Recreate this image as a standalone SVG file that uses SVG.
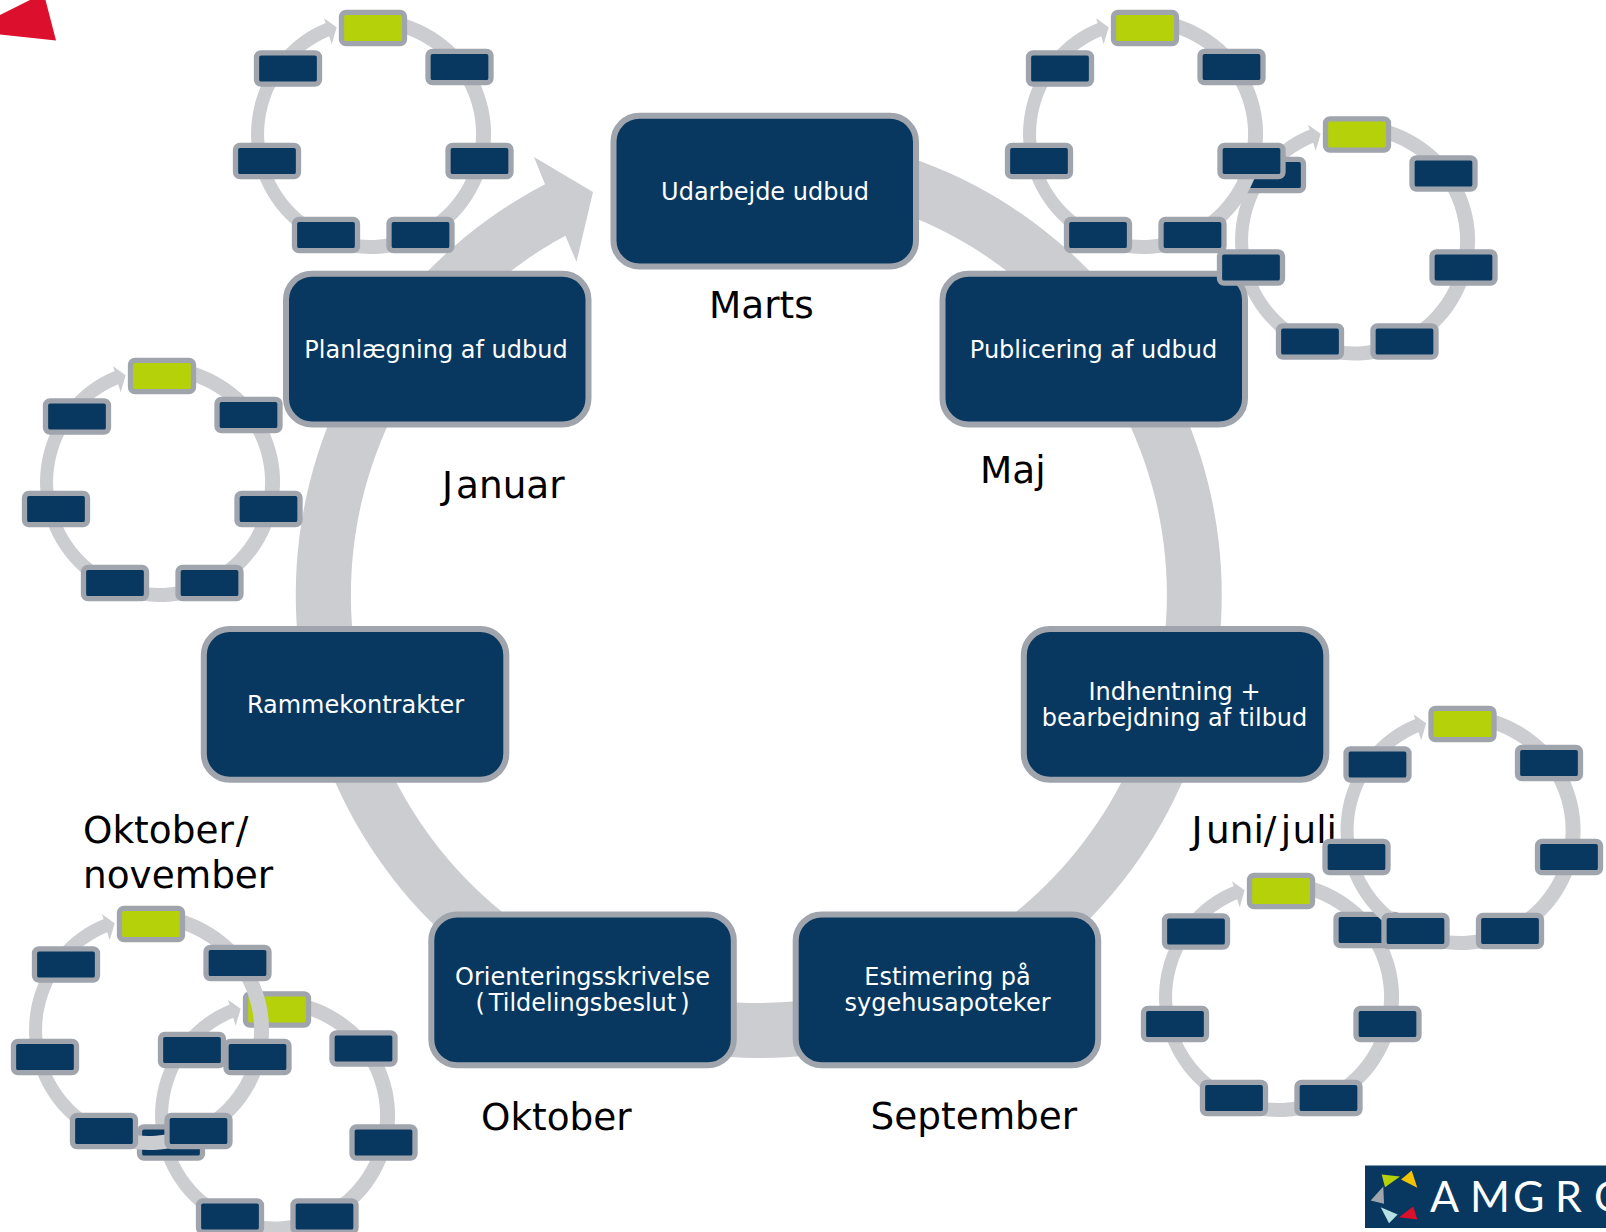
<svg xmlns="http://www.w3.org/2000/svg" width="1606" height="1232" viewBox="0 0 1606 1232">
<style>
text{font-family:"DejaVu Sans",Verdana,sans-serif}
.box{fill:#08385f;stroke:#a0a5ad;stroke-width:6}
.t{fill:#fff;font-size:24px;text-anchor:middle}
.lab{fill:#000;font-size:37.4px}
.flow{fill:#cccdd1}
.mini{fill:#08385f;stroke:#a0a5ad;stroke-width:5.3}
.cur{fill:#b5d10a;stroke:#a0a5ad;stroke-width:5.3}
</style>
<defs>
<path id="arc" class="flow" d="M-45.3-110.7L-47-115.7L-34.3-106.7L-39.3-89.7L-41.8-97.8A106 106 0 1 0 0-106L0-120A120 120 0 1 1-45.3-111.1Z"/>
<rect id="n0" class="cur" x="-29.5" y="-121.7" width="63" height="31.4" rx="4.5"/>
<rect id="n1" class="mini" x="-114.5" y="-81.2" width="63" height="31.4" rx="4.5"/>
<rect id="n2" class="mini" x="57" y="-82.7" width="63" height="31.4" rx="4.5"/>
<rect id="n3" class="mini" x="-135.5" y="11.3" width="63" height="31.4" rx="4.5"/>
<rect id="n4" class="mini" x="77" y="11.3" width="63" height="31.4" rx="4.5"/>
<rect id="n5" class="mini" x="-76.5" y="85.3" width="63" height="31.4" rx="4.5"/>
<rect id="n6" class="mini" x="18" y="85.3" width="63" height="31.4" rx="4.5"/>
<g id="ring">
<use href="#arc"/><use href="#n0"/><use href="#n1"/><use href="#n2"/><use href="#n3"/><use href="#n4"/><use href="#n5"/><use href="#n6"/>
</g>
</defs>

<polygon points="30,0 45.5,0 56,40.5 0,34.5 0,15" fill="#dc0f2c"/>

<g id="connectors">
<path id="main-cycle" class="flow" d="M545 184.3L534 157L593 192L576.5 262L565.4 235.8A408 408 0 1 0 758.8 187L758.8 132A463 463 0 1 1 545 184.3Z"/>
</g>

<g id="labels">
<text class="lab" x="709" y="318">Marts</text>
<text class="lab" x="442" y="498" dx="0 3">Januar</text>
<text class="lab" x="980" y="482.5">Maj</text>
<text class="lab" x="83" y="843" dx="0 0 0 0 0 0 0 2">Oktober/</text>
<text class="lab" x="83" y="888">november</text>
<text class="lab" x="1191.5" y="843" dx="0 3.5 0 0 0 4.4 1.3">Juni/juli</text>
<text class="lab" x="481" y="1129.5">Oktober</text>
<text class="lab" x="870.5" y="1129">September</text>
</g>

<g id="ring-januar" transform="translate(160 482)"><use href="#ring"/></g>
<g id="ring-marts" transform="translate(371 134)"><use href="#ring"/></g>
<g id="ring-maj-b-back" transform="translate(1355 240.5)"><use href="#arc"/><use href="#n1"/></g>
<g id="ring-maj-a" transform="translate(1143 134)"><use href="#ring"/></g>
<g id="ring-sep" transform="translate(1279 997)"><use href="#ring"/></g>
<g id="ring-juni" transform="translate(1460.5 830)"><use href="#ring"/></g>
<g id="ring-okt-b" transform="translate(275 1115.5)"><use href="#ring"/></g>
<g id="ring-okt-a" transform="translate(149 1030)"><use href="#ring"/></g>

<g id="node-udarbejde"><rect class="box" x="613.5" y="115.7" width="302.5" height="150.7" rx="26"/><text class="t" x="765" y="199.5">Udarbejde udbud</text></g>
<g id="node-planlaegning"><rect class="box" x="286" y="273.7" width="302.5" height="150.7" rx="26"/><text class="t" x="436" y="357.5">Planlægning af udbud</text></g>
<g id="node-publicering"><rect class="box" x="942.5" y="273.7" width="302.5" height="150.7" rx="26"/><text class="t" x="1093.5" y="357.5">Publicering af udbud</text></g>
<g id="node-ramme"><rect class="box" x="203.8" y="629" width="302.5" height="150.7" rx="26"/><text class="t" x="355.5" y="712.7">Rammekontrakter</text></g>
<g id="node-indhentning"><rect class="box" x="1023.8" y="629" width="302.5" height="150.7" rx="26"/><text class="t" x="1174.5" y="700">Indhentning +</text><text class="t" x="1174.5" y="726">bearbejdning af tilbud</text></g>
<g id="node-orientering"><rect class="box" x="431.3" y="914.6" width="302.5" height="150.7" rx="26"/><text class="t" x="582.5" y="984.5">Orienteringsskrivelse</text><text class="t" x="582.5" y="1011" dx="0 4 0 0 0 0 0 0 0 0 0 0 0 0 0 0 0 4">(Tildelingsbeslut)</text></g>
<g id="node-estimering"><rect class="box" x="795.7" y="914.6" width="302.5" height="150.7" rx="26"/><text class="t" x="947.5" y="984.5">Estimering på</text><text class="t" x="947.5" y="1011">sygehusapoteker</text></g>

<g id="ring-maj-b-front" transform="translate(1355 240.5)"><use href="#n0"/><use href="#n2"/><use href="#n3"/><use href="#n4"/><use href="#n5"/><use href="#n6"/></g>

<g id="logo">
<rect x="1365" y="1165.5" width="241" height="62.5" fill="#08385f"/>
<polygon points="1381.7,1174.5 1400,1176.5 1385,1187.2" fill="#b5d10a"/>
<polygon points="1411.7,1170.5 1417.3,1187.8 1401,1179.5" fill="#f0c400"/>
<polygon points="1383.3,1186.5 1384,1203.8 1370.7,1200.5" fill="#a0a5ad"/>
<polygon points="1380.7,1207.2 1397.7,1214.5 1389,1223.2" fill="#b5e0e4"/>
<polygon points="1413.3,1206.5 1417.3,1219.5 1399,1217.2" fill="#dc0f2c"/>
<text x="1430 1470 1513 1555 1594" y="1212" fill="#fff" style="font-family:Lato,sans-serif;font-size:43px">AMGRO</text>
</g>
</svg>
